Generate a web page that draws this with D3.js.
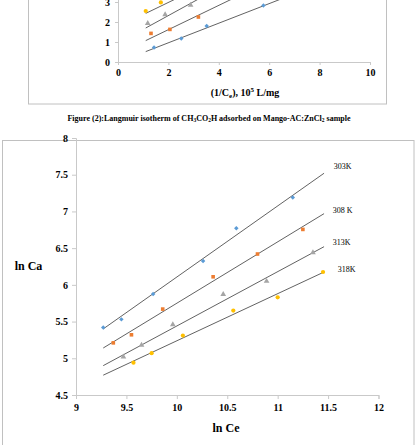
<!DOCTYPE html>
<html>
<head>
<meta charset="utf-8">
<script src="https://cdn.jsdelivr.net/npm/d3@7"></script>
<style>
  body { margin: 0; background: #fff; }
  svg { display: block; }
  text { font-family: "Liberation Serif", "Times New Roman", serif; fill: #000; }
</style>
</head>
<body>
<svg width="416" height="445"></svg>
<script>
// ---- Top (cut-off) chart: Langmuir ----
const langX = [
  [1.43, 2.51, 3.52, 5.77],
  [1.31, 2.06, 3.19],
  [1.18, 1.87, 2.88],
  [1.1, 1.7]
];
const langY = [
  [0.73, 1.17, 1.8, 2.83],
  [1.43, 1.63, 2.25],
  [1.93, 2.37, 2.85],
  [2.55, 2.98]
];
// trend line end points [x0, y0, x1, y1]
const langFit = [
  [1.1, 0.52, 7.0, 3.41],
  [1.1, 1.07, 5.0, 3.44],
  [1.1, 1.7, 3.5, 3.36],
  [1.1, 2.43, 2.6, 3.345]
];
const langXTicks = [0, 2, 4, 6, 8, 10];
const langYTicks = [0, 1, 2, 3, 4];

// ---- Main chart: ln Ca vs ln Ce ----
const temps = ["303K", "308 K", "313K", "318K"];
const lnCe = [
  [9.27, 9.45, 9.765, 10.26, 10.59, 11.15],
  [9.37, 9.55, 9.86, 10.36, 10.80, 11.25],
  [9.47, 9.65, 9.96, 10.46, 10.89, 11.35],
  [9.57, 9.75, 10.06, 10.56, 11.0, 11.45]
];
const lnCa = [
  [5.42, 5.53, 5.876, 6.325, 6.77, 7.19],
  [5.21, 5.32, 5.67, 6.11, 6.42, 6.755],
  [5.02, 5.18, 5.46, 5.87, 6.05, 6.44],
  [4.94, 5.07, 5.31, 5.65, 5.83, 6.175]
];
const fitLines = [
  [9.27, 5.40, 11.46, 7.52],
  [9.27, 5.14, 11.46, 6.97],
  [9.27, 4.90, 11.46, 6.52],
  [9.27, 4.77, 11.46, 6.175]
];
const xTicks = [9, 9.5, 10, 10.5, 11, 11.5, 12];
const yTicks = [4.5, 5, 5.5, 6, 6.5, 7, 7.5, 8];

const colors = ["#5b9bd5", "#ed7d31", "#a5a5a5", "#ffc000"];
const shapes = [d3.symbolSquare, d3.symbolSquare, d3.symbolTriangle, d3.symbolCircle];
const sizes = [10, 13, 14, 14];
const axisColor = "#c9c9c9";
const lineColor = "#3a3a3a";
const serif = "Liberation Serif, Times New Roman, serif";

const svg = d3.select("svg");

// Frames
svg.append("rect")
  .attr("x", 28.5).attr("y", -20).attr("width", 358).attr("height", 124)
  .attr("fill", "none").attr("stroke", "#c0c0c0");
svg.append("rect")
  .attr("x", 2.5).attr("y", 140.5).attr("width", 411.5).attr("height", 320)
  .attr("fill", "none").attr("stroke", "#c0c0c0");

function styleAxis(g) {
  g.attr("font-family", serif);
  g.selectAll("path, line").attr("stroke", axisColor);
  g.selectAll("text")
    .attr("fill", "#000")
    .attr("font-family", serif)
    .attr("font-weight", "bold")
    .attr("font-size", 10);
}

function drawSeries(g, xs, ys, fits, xScale, yScale) {
  fits.forEach(f => {
    g.append("line")
      .attr("x1", xScale(f[0])).attr("y1", yScale(f[1]))
      .attr("x2", xScale(f[2])).attr("y2", yScale(f[3]))
      .attr("stroke", lineColor).attr("stroke-width", 0.8);
  });
  xs.forEach((arr, i) => {
    g.selectAll(null)
      .data(arr.map((x, j) => [x, ys[i][j]]))
      .enter()
      .append("path")
        .attr("d", d3.symbol().type(shapes[i]).size(sizes[i]))
        .attr("transform", d => `translate(${xScale(d[0])},${yScale(d[1])})` + (i === 0 ? " rotate(45)" : ""))
        .attr("fill", colors[i]);
  });
}

// ---- Top chart ----
const tx = d3.scaleLinear().domain([0, 10]).range([118, 370]);
const ty = d3.scaleLinear().domain([0, 4]).range([62, -18]);

svg.append("g")
  .attr("transform", "translate(0,62)")
  .call(d3.axisBottom(tx).tickValues(langXTicks).tickSize(3).tickPadding(4).tickFormat(d => d))
  .call(styleAxis);
svg.append("g")
  .attr("transform", "translate(118,0)")
  .call(d3.axisLeft(ty).tickValues(langYTicks).tickSize(3).tickPadding(5).tickFormat(d => d))
  .call(styleAxis);

drawSeries(svg.append("g"), langX, langY, langFit, tx, ty);

const tLabel = svg.append("text")
  .attr("x", 245).attr("y", 96)
  .attr("text-anchor", "middle")
  .attr("font-family", serif)
  .attr("font-weight", "bold").attr("font-size", 10);
tLabel.append("tspan").text("(1/C");
tLabel.append("tspan").attr("font-size", 7).attr("dy", 2).text("e");
tLabel.append("tspan").attr("dy", -2).text("), 10");
tLabel.append("tspan").attr("font-size", 7).attr("dy", -4).text("5");
tLabel.append("tspan").attr("dy", 4).text(" L/mg");

const cap = svg.append("text")
  .attr("x", 209).attr("y", 120.5)
  .attr("text-anchor", "middle")
  .attr("font-family", serif)
  .attr("font-weight", "bold").attr("font-size", 8);
cap.append("tspan").text("Figure (2):Langmuir isotherm of CH");
cap.append("tspan").attr("font-size", 5.5).attr("dy", 1.5).text("3");
cap.append("tspan").attr("dy", -1.5).text("CO");
cap.append("tspan").attr("font-size", 5.5).attr("dy", 1.5).text("2");
cap.append("tspan").attr("dy", -1.5).text("H adsorbed on Mango-AC:ZnCl");
cap.append("tspan").attr("font-size", 5.5).attr("dy", 1.5).text("2");
cap.append("tspan").attr("dy", -1.5).text(" sample");

// ---- Main chart ----
const x = d3.scaleLinear().domain([9, 12]).range([76, 378.5]);
const y = d3.scaleLinear().domain([4.5, 8]).range([395, 138]);

svg.append("g")
  .attr("transform", "translate(0,395)")
  .call(d3.axisBottom(x).tickValues(xTicks).tickSize(4).tickPadding(5).tickFormat(d => d))
  .call(styleAxis);
svg.append("g")
  .attr("transform", "translate(76,0)")
  .call(d3.axisLeft(y).tickValues(yTicks).tickSize(4).tickPadding(4).tickFormat(d => d))
  .call(styleAxis);

drawSeries(svg.append("g"), lnCe, lnCa, fitLines, x, y);

// series labels
const labelPos = [[342.7, 168.5], [342.7, 213], [341.7, 244.5], [346.7, 272]];
temps.forEach((t, i) => {
  svg.append("text")
    .attr("x", labelPos[i][0]).attr("y", labelPos[i][1])
    .attr("text-anchor", "middle")
    .attr("font-family", serif)
    .attr("fill", "#000")
    .attr("font-size", 8)
    .text(t);
});

svg.append("text")
  .attr("x", 28.5).attr("y", 270)
  .attr("text-anchor", "middle")
  .attr("font-family", serif)
  .attr("font-weight", "bold").attr("font-size", 12)
  .text("ln Ca");
svg.append("text")
  .attr("x", 226).attr("y", 432)
  .attr("text-anchor", "middle")
  .attr("font-family", serif)
  .attr("font-weight", "bold").attr("font-size", 12)
  .text("ln Ce");
</script>
</body>
</html>
